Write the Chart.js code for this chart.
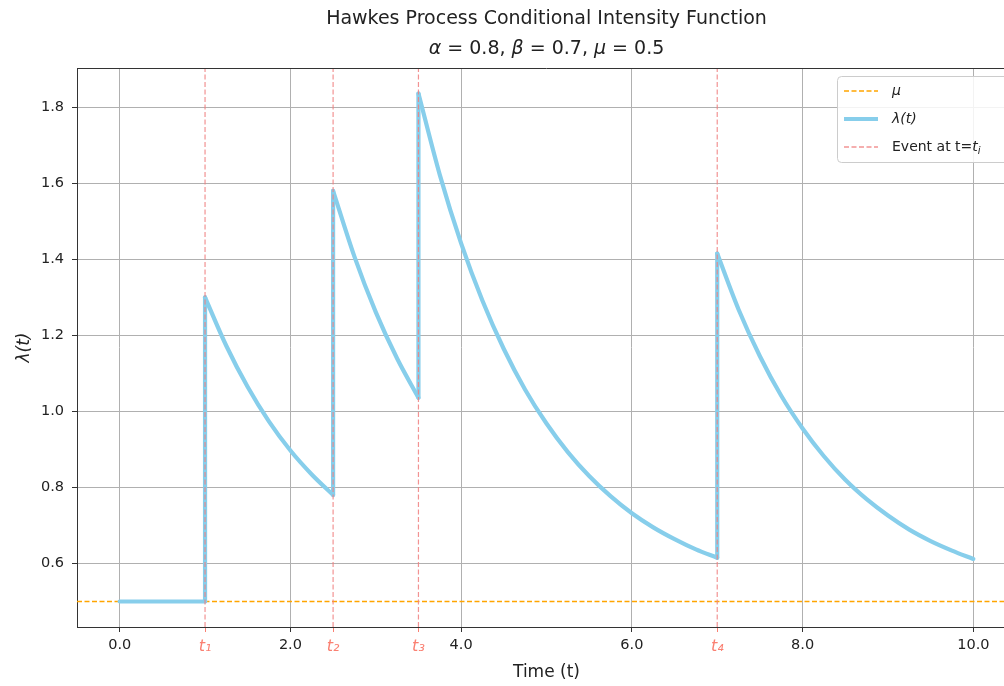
<!DOCTYPE html>
<html>
<head>
<meta charset="utf-8">
<script src="https://cdn.jsdelivr.net/npm/chart.js@4"></script>
<style>
  html, body { margin: 0; padding: 0; background: #fff; overflow: hidden; }
  #wrap { width: 1030px; height: 686px; }
</style>
</head>
<body>
<div id="wrap"><canvas id="chart"></canvas></div>
<script>
// values
const lambdaT = [0, 1, 1, 1.25, 1.5, 1.75, 2, 2.25, 2.5, 2.5, 2.75, 3, 3.25, 3.5, 3.5, 3.75, 4, 4.25, 4.5, 4.75, 5, 5.25, 5.5, 5.75, 6, 6.25, 6.5, 6.75, 7, 7, 7.25, 7.5, 7.75, 8, 8.25, 8.5, 8.75, 9, 9.25, 9.5, 9.75, 10];
const lambdaY = [0.5, 0.5, 1.3, 1.172, 1.064, 0.973, 0.897, 0.834, 0.78, 1.58, 1.407, 1.261, 1.139, 1.036, 1.836, 1.622, 1.442, 1.291, 1.164, 1.057, 0.968, 0.893, 0.83, 0.777, 0.732, 0.695, 0.664, 0.637, 0.615, 1.415, 1.268, 1.145, 1.041, 0.955, 0.882, 0.82, 0.769, 0.726, 0.689, 0.659, 0.634, 0.612];
const eventTimes = [1.0, 2.5, 3.5, 7.0];
const eventLabels = ['t\u2081', 't\u2082', 't\u2083', 't\u2084'];
const muValue = 0.5;
const xTicks = [0, 2, 4, 6, 8, 10];
const yTicks = [0.6, 0.8, 1.0, 1.2, 1.4, 1.6, 1.8];

const X_MIN = -0.5, X_MAX = 10.5, Y_MIN = 0.433, Y_MAX = 1.903;
const FONT = "'DejaVu Sans', sans-serif";
const SKY = '#87ceeb';
const ORANGE = '#ffa500';
const EVENT_LINE = 'rgba(240,128,128,0.85)';
const SALMON = '#fa8072';

const isEvent = v => eventTimes.some(e => Math.abs(e - v) < 1e-6);
const tickIsEvent = c => !!(c && c.tick && isEvent(c.tick.value));

// split the intensity curve into pieces at the jumps (same t twice)
const pieces = [];
let cur = [];
lambdaT.forEach((t, i) => {
  if (cur.length && cur[cur.length - 1].x === t) {
    pieces.push(cur);
    pieces.push([cur[cur.length - 1], { x: t, y: lambdaY[i] }]);
    cur = [];
  }
  cur.push({ x: t, y: lambdaY[i] });
});
pieces.push(cur);

const datasets = [];
eventTimes.forEach(t => {
  datasets.push({
    data: [{ x: t, y: Y_MIN }, { x: t, y: Y_MAX }],
    borderColor: EVENT_LINE,
    borderWidth: 1.2,
    borderDash: [5, 2.5],
    pointRadius: 0,
    order: 0
  });
});
pieces.forEach(p => {
  datasets.push({
    data: p,
    borderColor: SKY,
    borderWidth: 4.2,
    pointRadius: 0,
    cubicInterpolationMode: 'monotone',
    borderCapStyle: 'round',
    borderJoinStyle: 'round',
    order: 1
  });
});
datasets.push({
  data: [{ x: X_MIN, y: muValue }, { x: X_MAX, y: muValue }],
  borderColor: ORANGE,
  borderWidth: 1.4,
  borderDash: [5, 2.5],
  pointRadius: 0,
  order: 2
});

// draw a run of [text, italic] parts centred on cx
function drawRun(ctx, parts, cx, y, size) {
  const fontOf = it => (it ? 'italic ' : '') + size + 'px ' + FONT;
  let total = 0;
  parts.forEach(p => { ctx.font = fontOf(p[1]); total += ctx.measureText(p[0]).width; });
  let x = cx - total / 2;
  ctx.textAlign = 'left';
  parts.forEach(p => {
    ctx.font = fontOf(p[1]);
    ctx.fillText(p[0], x, y);
    x += ctx.measureText(p[0]).width;
  });
}

const decorPlugin = {
  id: 'decor',
  afterDraw(chart) {
    const ctx = chart.ctx;
    const a = chart.chartArea;
    ctx.save();
    // top spine
    ctx.strokeStyle = '#333';
    ctx.lineWidth = 1;
    ctx.beginPath();
    ctx.moveTo(a.left, a.top + 0.5);
    ctx.lineTo(a.right, a.top + 0.5);
    ctx.stroke();

    // titles
    ctx.fillStyle = '#222';
    ctx.textAlign = 'center';
    ctx.textBaseline = 'middle';
    const cx = (a.left + a.right) / 2;
    ctx.font = '19px ' + FONT;
    ctx.fillText('Hawkes Process Conditional Intensity Function', cx, 19);
    drawRun(ctx, [
      ['α', true], [' = 0.8, ', false], ['β', true], [' = 0.7, ', false], ['μ', true], [' = 0.5', false]
    ], cx, 49, 19);

    // axis titles
    ctx.textAlign = 'center';
    ctx.font = '17px ' + FONT;
    ctx.fillText('Time (t)', cx, 673);
    ctx.save();
    ctx.translate(25, (a.top + a.bottom) / 2);
    ctx.rotate(-Math.PI / 2);
    ctx.font = 'italic 17px ' + FONT;
    ctx.fillText('λ(t)', 0, 0);
    ctx.restore();

    // legend
    const bx = 837, by = 76, bw = 172, bh = 86;
    ctx.fillStyle = 'rgba(255,255,255,0.85)';
    ctx.strokeStyle = '#cccccc';
    ctx.lineWidth = 1;
    ctx.beginPath();
    ctx.roundRect(bx + 0.5, by + 0.5, bw, bh, 4);
    ctx.fill();
    ctx.stroke();
    const items = [
      { text: 'μ', color: ORANGE, width: 1.4, dash: [5, 2.5], italic: true },
      { text: 'λ(t)', color: SKY, width: 4.2, dash: [], italic: true },
      { text: 'Event at t=', color: EVENT_LINE, width: 1.4, dash: [5, 2.5], italic: false }
    ];
    items.forEach((it, i) => {
      const y = 91 + i * 28;
      ctx.strokeStyle = it.color;
      ctx.lineWidth = it.width;
      ctx.setLineDash(it.dash);
      ctx.beginPath();
      ctx.moveTo(844, y);
      ctx.lineTo(878, y);
      ctx.stroke();
      ctx.setLineDash([]);
      ctx.fillStyle = '#222';
      ctx.textAlign = 'left';
      ctx.font = (it.italic ? 'italic ' : '') + '14px ' + FONT;
      ctx.fillText(it.text, 892, y);
      if (i === 2) {
        let x = 892 + ctx.measureText(it.text).width;
        ctx.font = 'italic 14px ' + FONT;
        ctx.fillText('t', x, y);
        x += ctx.measureText('t').width;
        ctx.font = 'italic 10px ' + FONT;
        ctx.fillText('i', x, y + 4);
      }
    });
    ctx.restore();
  }
};

new Chart(document.getElementById('chart'), {
  type: 'line',
  data: { datasets: datasets },
  plugins: [decorPlugin],
  options: {
    responsive: true,
    maintainAspectRatio: false,
    animation: false,
    layout: { padding: { top: 68, right: 14, left: 0, bottom: 0 } },
    plugins: {
      legend: { display: false },
      title: { display: false },
      tooltip: { enabled: false }
    },
    scales: {
      x: {
        type: 'linear',
        min: X_MIN,
        max: X_MAX,
        afterBuildTicks: s => {
          s.ticks = xTicks.concat(eventTimes).sort((p, q) => p - q).map(v => ({ value: v }));
        },
        afterFit: s => { s.height = 59; },
        border: { color: '#333', width: 1 },
        grid: {
          color: c => tickIsEvent(c) ? 'rgba(0,0,0,0)' : '#b0b0b0',
          lineWidth: 1,
          tickLength: 5,
          tickColor: c => tickIsEvent(c) ? SALMON : '#333'
        },
        ticks: {
          padding: 5,
          maxRotation: 0,
          autoSkip: false,
          color: c => tickIsEvent(c) ? SALMON : '#222',
          font: c => ({ family: FONT, size: tickIsEvent(c) ? 16 : 14.5, style: tickIsEvent(c) ? 'italic' : 'normal' }),
          callback: v => {
            const k = eventTimes.findIndex(e => Math.abs(e - v) < 1e-6);
            return k >= 0 ? eventLabels[k] : v.toFixed(1);
          }
        }
      },
      y: {
        type: 'linear',
        min: Y_MIN,
        max: Y_MAX,
        afterBuildTicks: s => { s.ticks = yTicks.map(v => ({ value: v })); },
        afterFit: s => { s.width = 77; },
        border: { color: '#333', width: 1 },
        grid: { color: '#b0b0b0', lineWidth: 1, tickLength: 5, tickColor: '#333' },
        ticks: {
          padding: 8,
          color: '#222',
          font: { family: FONT, size: 14.5 },
          callback: v => v.toFixed(1)
        }
      }
    }
  }
});
</script>
</body>
</html>
